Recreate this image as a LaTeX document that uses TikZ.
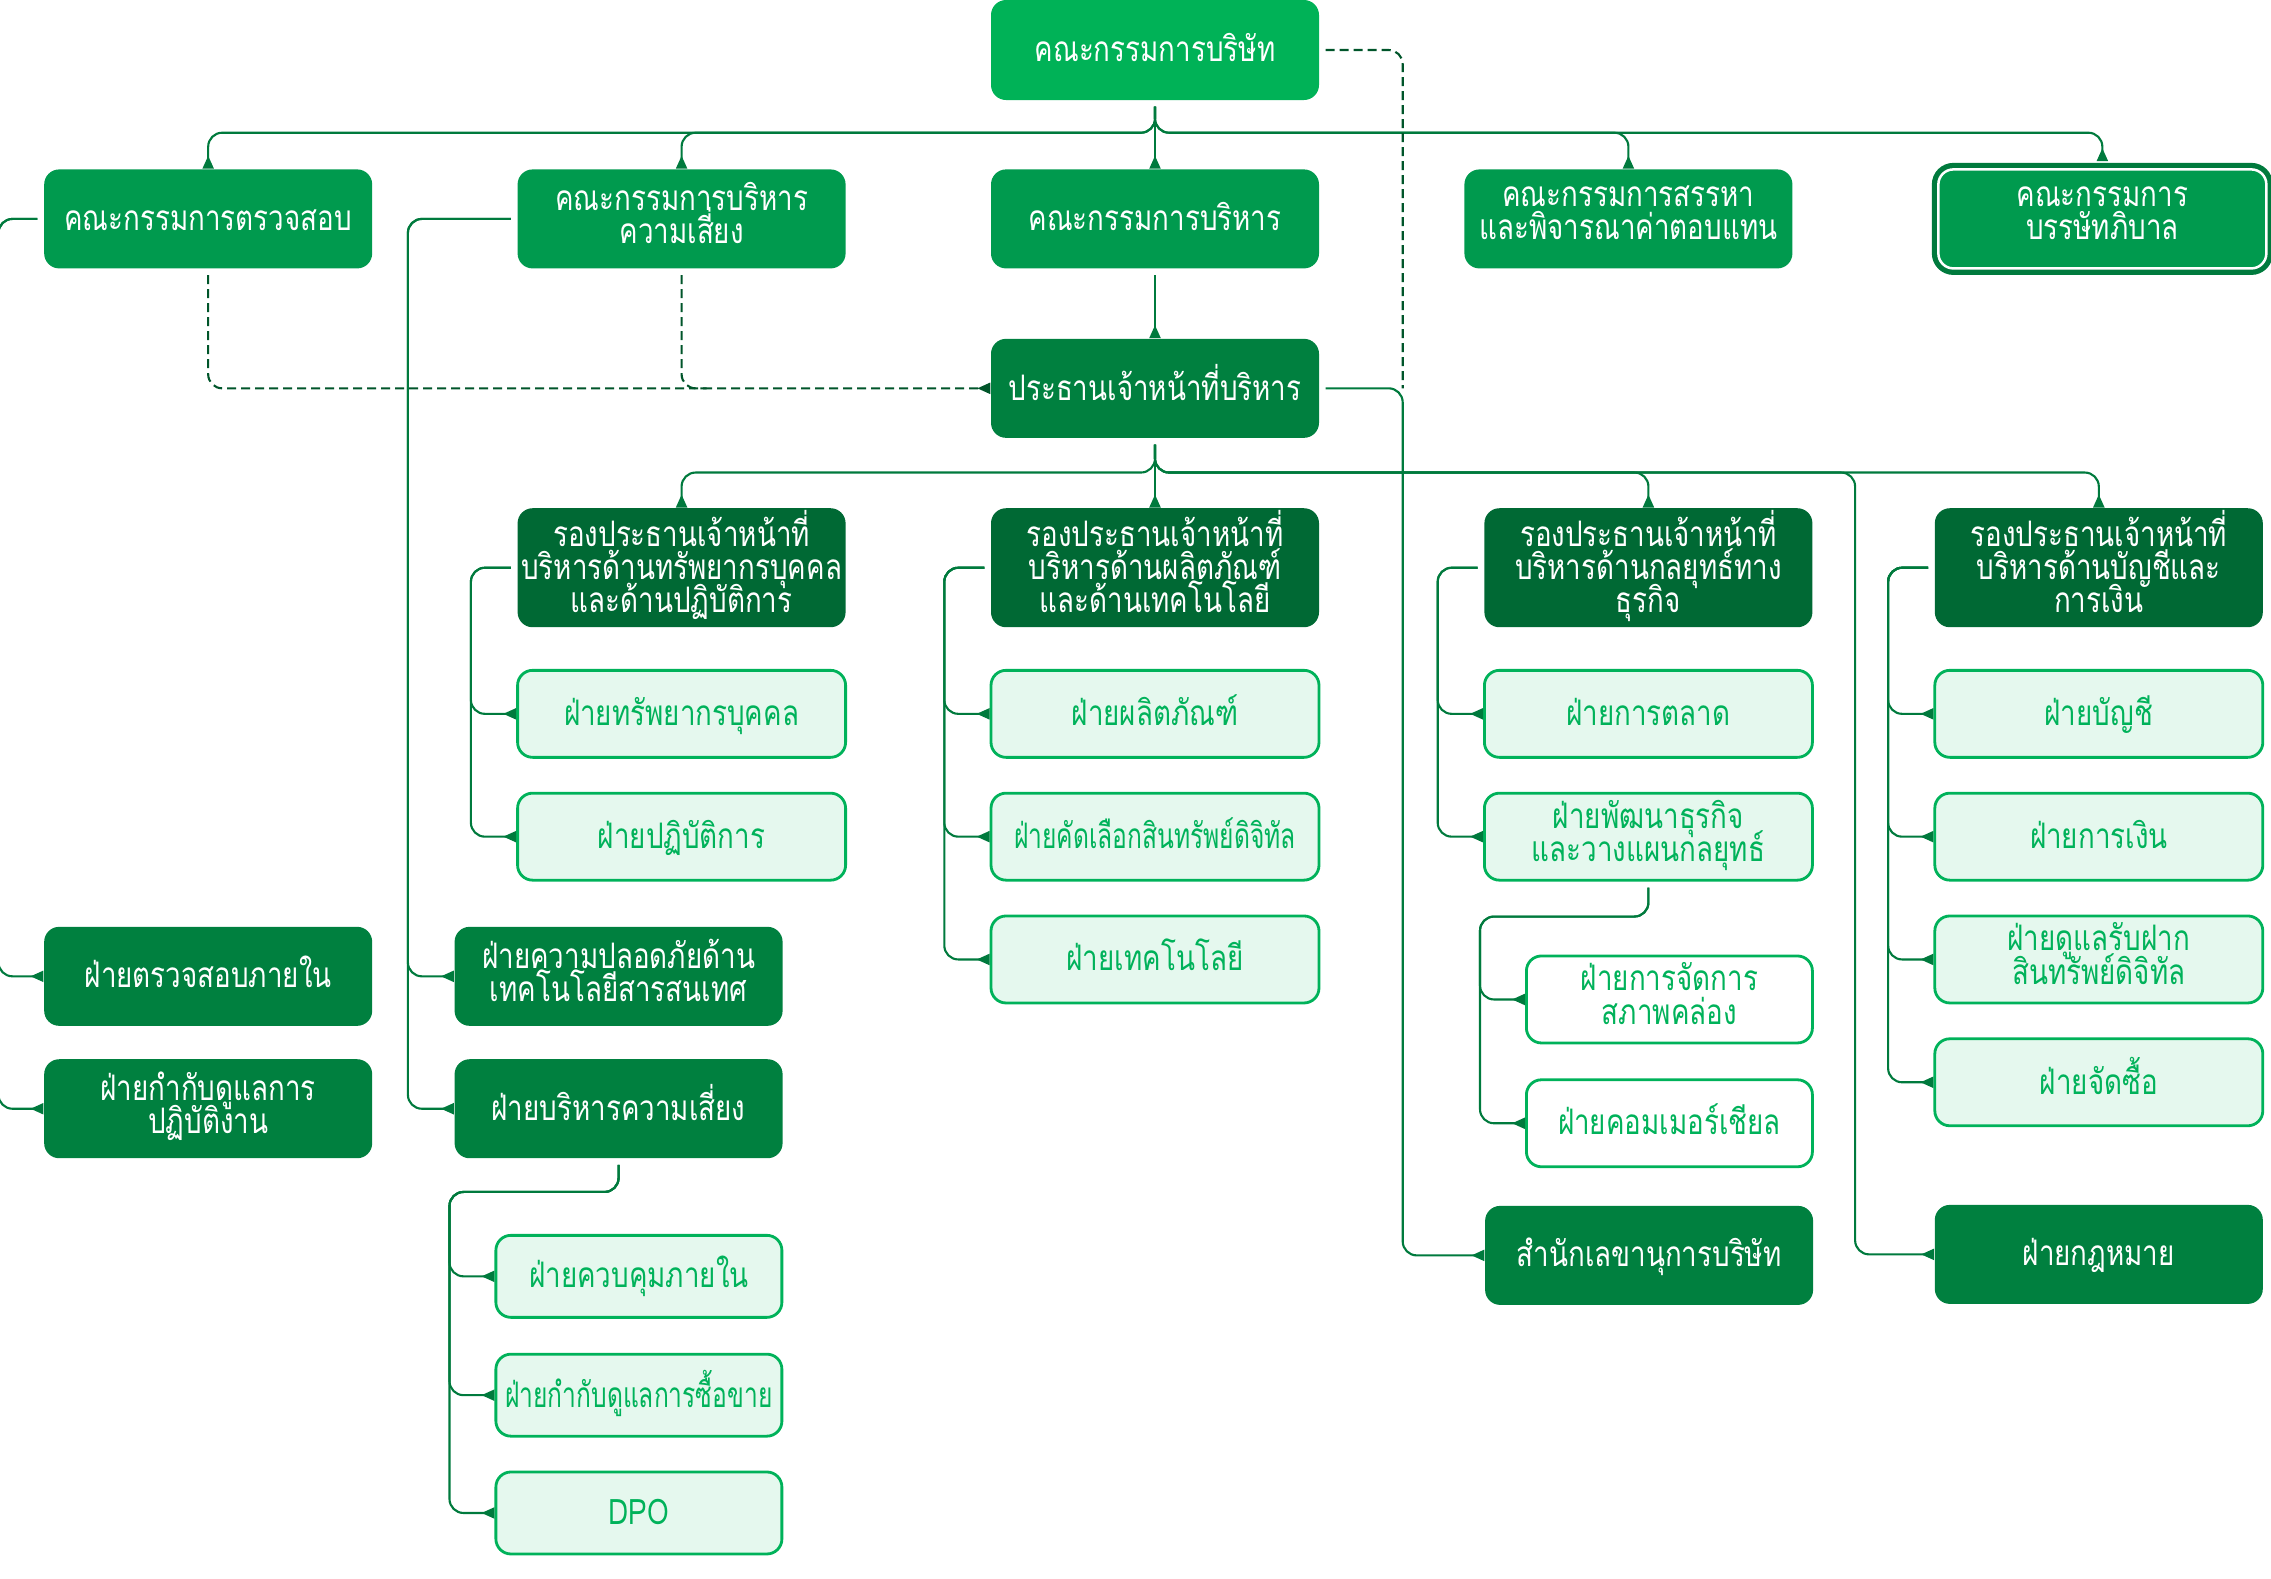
\documentclass[tikz,border=0pt]{standalone}
\usepackage{fontspec}
\setmainfont[Script=Thai, FakeStretch=0.79]{Loma}
\newfontfamily\narrowthai[Script=Thai, FakeStretch=0.70]{Loma}
\usetikzlibrary{arrows.meta,positioning}
\definecolor{Board}{HTML}{00B257}
\definecolor{Committee}{HTML}{009A4E}
\definecolor{Exec}{HTML}{00803F}
\definecolor{Deputy}{HTML}{006934}
\definecolor{Soft}{HTML}{E5F8EE}
\definecolor{Edge}{HTML}{00B25A}
\definecolor{Wire}{HTML}{007A3D}
\definecolor{Dash}{HTML}{00552A}
\newcommand\boxfont{\fontsize{10}{9.4}\selectfont\lineskiplimit=-6pt\relax}
\newcommand\narrowfont{\narrowthai\boxfont}
\tikzset{
 block/.style={rounded corners=0.15cm, minimum width=3.28cm, minimum height=0.99cm, inner sep=0pt, align=center, font=\boxfont, text=white,
  execute at begin node={\rule{0pt}{0.35cm}}, execute at end node={\rule[-0.12cm]{0pt}{0pt}}},
 boardblock/.style={block, fill=Board, minimum height=1.00cm},
 comblock/.style={block, fill=Committee},
 govblock/.style={comblock, draw=white, line width=0.025cm, preaction={draw=Wire, line width=0.13cm}},
 exblock/.style={block, fill=Exec},
 vpblock/.style={block, fill=Deputy, minimum height=1.19cm},
 softblock/.style={block, fill=Soft, draw=Edge, line width=0.8pt, text=Edge, minimum height=0.87cm},
 subblock/.style={softblock, minimum width=2.86cm, minimum height=0.82cm},
 plainblock/.style={softblock, fill=white, minimum width=2.86cm},
 narrow/.style={font=\narrowfont},
 link/.style={draw=Wire, line width=0.6pt, rounded corners=0.14cm, shorten <=0.06cm, -{Triangle[reversed,length=0.13cm,width=0.11cm]}},
 dashlink/.style={link, draw=Dash, dash pattern=on 0.09cm off 0.05cm}
}
\begin{document}
\begin{tikzpicture}
\useasboundingbox (0,0) rectangle (22.71,-15.78);
\node[boardblock] (board) at (11.55,-0.50) {คณะกรรมการบริษัท};
\node[comblock, below=0.68cm of board] (exec) {คณะกรรมการบริหาร};
\node[comblock, left=1.44cm of exec] (riskc) {คณะกรรมการบริหาร\\ความเสี่ยง};
\node[comblock, left=1.44cm of riskc] (audit) {คณะกรรมการตรวจสอบ};
\node[comblock, right=1.44cm of exec] (nomin) {คณะกรรมการสรรหา\\และพิจารณาค่าตอบแทน};
\node[govblock, right=1.44cm of nomin] (gov) {คณะกรรมการ\\บรรษัทภิบาล};
\node[exblock, below=0.69cm of exec] (ceo) {ประธานเจ้าหน้าที่บริหาร};
\node[vpblock, below=0.69cm of ceo] (vpprod) {รองประธานเจ้าหน้าที่\\บริหารด้านผลิตภัณฑ์\\และด้านเทคโนโลยี};
\node[vpblock, left=1.44cm of vpprod] (vphr) {รองประธานเจ้าหน้าที่\\บริหารด้านทรัพยากรบุคคล\\และด้านปฏิบัติการ};
\node[vpblock, right=1.64cm of vpprod] (vpstrat) {รองประธานเจ้าหน้าที่\\บริหารด้านกลยุทธ์ทาง\\ธุรกิจ};
\node[vpblock, right=1.21cm of vpstrat] (vpfin) {รองประธานเจ้าหน้าที่\\บริหารด้านบัญชีและ\\การเงิน};
\node[softblock, below=0.41cm of vphr] (hr) {ฝ่ายทรัพยากรบุคคล};
\node[softblock, below=0.33cm of hr] (ops) {ฝ่ายปฏิบัติการ};
\node[softblock, below=0.41cm of vpprod] (prod) {ฝ่ายผลิตภัณฑ์};
\node[softblock, narrow, below=0.33cm of prod] (listing) {ฝ่ายคัดเลือกสินทรัพย์ดิจิทัล};
\node[softblock, below=0.33cm of listing] (tech) {ฝ่ายเทคโนโลยี};
\node[softblock, below=0.41cm of vpstrat] (mkt) {ฝ่ายการตลาด};
\node[softblock, below=0.33cm of mkt] (bizdev) {ฝ่ายพัฒนาธุรกิจ\\และวางแผนกลยุทธ์};
\node[plainblock, below left=0.73cm and 0cm of bizdev.south east] (liq) {ฝ่ายการจัดการ\\สภาพคล่อง};
\node[plainblock, below=0.34cm of liq] (comm) {ฝ่ายคอมเมอร์เชียล};
\node[exblock, below left=0.37cm and 0cm of comm.south east] (sec) {สำนักเลขานุการบริษัท};
\node[softblock, below=0.41cm of vpfin] (acct) {ฝ่ายบัญชี};
\node[softblock, below=0.33cm of acct] (fin) {ฝ่ายการเงิน};
\node[softblock, below=0.33cm of fin] (cust) {ฝ่ายดูแลรับฝาก\\สินทรัพย์ดิจิทัล};
\node[softblock, below=0.33cm of cust] (purch) {ฝ่ายจัดซื้อ};
\node[exblock, below=0.77cm of purch] (legal) {ฝ่ายกฎหมาย};
\node[exblock, below=6.57cm of audit] (ia) {ฝ่ายตรวจสอบภายใน};
\node[exblock, below=0.32cm of ia] (comp) {ฝ่ายกำกับดูแลการ\\ปฏิบัติงาน};
\node[exblock, right=0.81cm of ia] (itsec) {ฝ่ายความปลอดภัยด้าน\\เทคโนโลยีสารสนเทศ};
\node[exblock, below=0.32cm of itsec] (riskd) {ฝ่ายบริหารความเสี่ยง};
\node[subblock, below left=0.75cm and 0cm of riskd.south east] (ictrl) {ฝ่ายควบคุมภายใน};
\node[subblock, narrow, below=0.34cm of ictrl] (trade) {ฝ่ายกำกับดูแลการซื้อขาย};
\node[subblock, below=0.33cm of trade] (dpo) {DPO};
\coordinate (secturn) at ([xshift=0.83cm]ceo.east);
\draw[link] (board) -- (exec);
\foreach \n in {audit,riskc,nomin} \draw[link] (board.south) -- ++(0,-0.32) -| (\n.north);
\draw[link] (board.south) -- ++(0,-0.32) -| ([yshift=0.07cm]gov.north);
\draw[dashlink] (audit) |- (ceo);
\draw[dashlink, -] (riskc) |- ([xshift=0.25cm]riskc |- ceo);
\draw[dashlink, -] (board) -| (secturn);
\draw[link] (ceo) -- (secturn) |- (sec);
\draw[link] (exec) -- (ceo);
\draw[link] (ceo) -- (vpprod);
\foreach \n in {vphr,vpstrat,vpfin} \draw[link] (ceo.south) -- ++(0,-0.34) -| (\n.north);
\draw[link] (ceo.south) -- ++(0,-0.34) -| ([xshift=-0.79cm]legal.west) -- (legal);
\foreach \n in {ia,comp} \draw[link] (audit.west) -- ++(-0.45,0) |- (\n);
\foreach \n in {itsec,riskd} \draw[link] (riskc.west) -- ++(-1.09,0) |- (\n);
\foreach \n in {hr,ops} \draw[link] (vphr.west) -- ++(-0.46,0) |- (\n);
\foreach \n in {prod,listing,tech} \draw[link] (vpprod.west) -- ++(-0.46,0) |- (\n);
\foreach \n in {mkt,bizdev} \draw[link] (vpstrat.west) -- ++(-0.46,0) |- (\n);
\foreach \n in {acct,fin,cust,purch} \draw[link] (vpfin.west) -- ++(-0.46,0) |- (\n);
\foreach \n in {ictrl,trade,dpo} \draw[link] (riskd.south) -- ++(0,-0.33) -| ([xshift=-0.45cm]\n.west) -- (\n);
\foreach \n in {liq,comm} \draw[link] (bizdev.south) -- ++(0,-0.35) -| ([xshift=-0.45cm]\n.west) -- (\n);
\end{tikzpicture}
\end{document}
